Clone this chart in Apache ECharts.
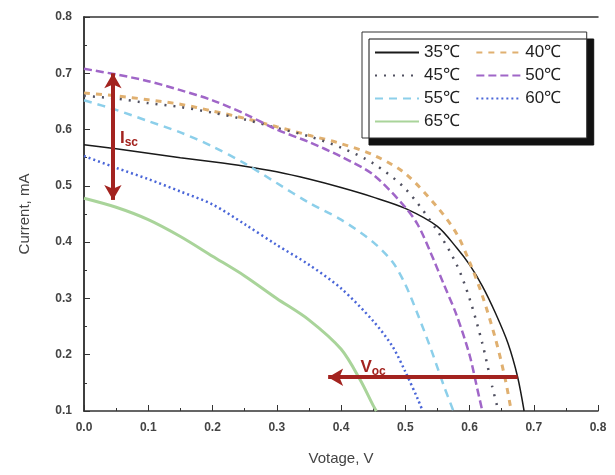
<!DOCTYPE html>
<html>
<head>
<meta charset="utf-8">
<script src="https://cdn.jsdelivr.net/npm/echarts@6/dist/echarts.min.js"></script>
<style>
  html, body { margin: 0; padding: 0; background: #fff; }
  #chart { width: 615px; height: 475px; }
</style>
</head>
<body>
<div id="chart"></div>
<script>
// I-V curves: [voltage V, current mA]
const names = ['35℃', '40℃', '45℃', '50℃', '55℃', '60℃', '65℃']
const t35 = [[0, 0.573], [0.05, 0.566], [0.1, 0.558], [0.15, 0.55], [0.2, 0.543], [0.25, 0.535], [0.3, 0.525], [0.35, 0.512], [0.4, 0.497], [0.45, 0.48], [0.5, 0.46], [0.55, 0.428], [0.58, 0.39], [0.6, 0.36], [0.62, 0.322], [0.64, 0.275], [0.66, 0.22], [0.675, 0.16], [0.685, 0.1]]
const t40 = [[0, 0.665], [0.05, 0.66], [0.1, 0.653], [0.15, 0.645], [0.2, 0.633], [0.25, 0.62], [0.3, 0.605], [0.35, 0.59], [0.4, 0.575], [0.45, 0.555], [0.5, 0.522], [0.55, 0.462], [0.58, 0.415], [0.6, 0.365], [0.62, 0.305], [0.64, 0.23], [0.655, 0.16], [0.665, 0.1]]
const t45 = [[0, 0.66], [0.05, 0.655], [0.1, 0.647], [0.15, 0.64], [0.2, 0.63], [0.25, 0.618], [0.3, 0.603], [0.35, 0.588], [0.4, 0.568], [0.45, 0.54], [0.5, 0.495], [0.55, 0.42], [0.58, 0.36], [0.6, 0.3], [0.62, 0.22], [0.635, 0.145], [0.645, 0.1]]
const t50 = [[0, 0.708], [0.05, 0.698], [0.1, 0.686], [0.15, 0.67], [0.2, 0.652], [0.25, 0.628], [0.3, 0.6], [0.35, 0.578], [0.4, 0.552], [0.45, 0.52], [0.5, 0.462], [0.52, 0.43], [0.54, 0.38], [0.56, 0.325], [0.58, 0.27], [0.6, 0.2], [0.612, 0.14], [0.62, 0.1]]
const t55 = [[0, 0.652], [0.05, 0.635], [0.1, 0.615], [0.15, 0.595], [0.2, 0.57], [0.25, 0.54], [0.3, 0.505], [0.35, 0.47], [0.4, 0.44], [0.45, 0.4], [0.48, 0.365], [0.5, 0.325], [0.52, 0.27], [0.54, 0.21], [0.56, 0.145], [0.575, 0.1]]
const t60 = [[0, 0.553], [0.05, 0.532], [0.1, 0.512], [0.15, 0.49], [0.2, 0.467], [0.25, 0.432], [0.3, 0.395], [0.35, 0.36], [0.4, 0.318], [0.45, 0.26], [0.48, 0.215], [0.5, 0.17], [0.52, 0.12], [0.527, 0.1]]
const t65 = [[0, 0.478], [0.05, 0.462], [0.1, 0.44], [0.15, 0.41], [0.2, 0.375], [0.25, 0.34], [0.3, 0.3], [0.35, 0.262], [0.4, 0.21], [0.43, 0.155], [0.45, 0.11], [0.455, 0.1]]
// annotation arrows
const iscArrow = [[0.045, 0.7], [0.045, 0.475]]
const vocArrow = [[0.675, 0.16], [0.38, 0.16]]

const chart = echarts.init(document.getElementById('chart'))
const arrowRed = '#a3231f'

function curve (name, data, color, type, width) {
  return {
    name: name,
    type: 'line',
    data: data,
    smooth: 0.3,
    showSymbol: false,
    symbol: 'none',
    lineStyle: { color: color, type: type, width: width },
    itemStyle: { color: color },
    z: 3
  }
}

chart.setOption({
  animation: false,
  backgroundColor: '#fff',
  grid: { left: 84, right: 17, top: 17, bottom: 64 },
  legend: {
    data: names,
    left: 362,
    top: 32,
    width: 222,
    itemWidth: 44,
    itemHeight: 14,
    itemGap: 6,
    padding: [12, 16, 8, 12],
    backgroundColor: '#fff',
    borderColor: '#333',
    borderWidth: 1,
    shadowColor: '#111',
    shadowBlur: 0,
    shadowOffsetX: 7,
    shadowOffsetY: 7,
    itemStyle: { opacity: 0 },
    formatter: name => name + '  ',
    textStyle: { fontFamily: 'Liberation Sans', fontSize: 17, color: '#222' }
  },
  xAxis: [{
    type: 'value',
    min: 0,
    max: 0.8,
    interval: 0.1,
    name: 'Votage, V',
    nameLocation: 'middle',
    nameGap: 40,
    nameTextStyle: { fontFamily: 'Liberation Sans', fontSize: 15, color: '#444' },
    axisLine: { show: true, onZero: false, lineStyle: { color: '#333', width: 1.5 } },
    axisTick: { show: true, inside: true, length: 6, lineStyle: { color: '#333' } },
    minorTick: { show: true, splitNumber: 2, length: 3, lineStyle: { color: '#333' } },
    splitLine: { show: false },
    axisLabel: {
      fontFamily: 'Liberation Sans', fontSize: 12, fontWeight: 'bold', color: '#444', margin: 11,
      formatter: v => v.toFixed(1)
    }
  }, {
    type: 'value', position: 'top', min: 0, max: 0.8,
    axisLine: { show: true, lineStyle: { color: '#333', width: 1.5 } },
    axisTick: { show: false }, axisLabel: { show: false }, splitLine: { show: false }
  }],
  yAxis: [{
    type: 'value',
    min: 0.1,
    max: 0.8,
    interval: 0.1,
    name: 'Current, mA',
    nameLocation: 'middle',
    nameGap: 52,
    nameTextStyle: { fontFamily: 'Liberation Sans', fontSize: 15, color: '#444' },
    axisLine: { show: true, onZero: false, lineStyle: { color: '#333', width: 1.5 } },
    axisTick: { show: true, inside: true, length: 6, lineStyle: { color: '#333' } },
    minorTick: { show: true, splitNumber: 2, length: 3, lineStyle: { color: '#333' } },
    splitLine: { show: false },
    axisLabel: {
      fontFamily: 'Liberation Sans', fontSize: 12, fontWeight: 'bold', color: '#444', margin: 12,
      formatter: v => v.toFixed(1)
    }
  }, {
    type: 'value', position: 'right', min: 0.1, max: 0.8,
    axisLine: { show: true, lineStyle: { color: '#333', width: 1.5 } },
    axisTick: { show: false }, axisLabel: { show: false }, splitLine: { show: false }
  }],
  series: [
    curve(names[0], t35, '#1a1a1a', 'solid', 1.5),
    curve(names[1], t40, '#e0b070', [6, 6], 3),
    curve(names[2], t45, '#505060', [2, 7], 2.5),
    curve(names[3], t50, '#a066c8', [8, 4], 2.5),
    curve(names[4], t55, '#8ccfea', [8, 6], 2.5),
    curve(names[5], t60, '#4a66d8', [2, 3], 2.5),
    curve(names[6], t65, '#a9d49a', 'solid', 3),
    {
      name: 'arrows',
      type: 'line',
      data: [],
      z: 5,
      markLine: {
        silent: true,
        symbolSize: [13, 15],
        lineStyle: { color: arrowRed, width: 4, type: 'solid' },
        label: { show: false },
        data: [
          [{ coord: iscArrow[0], symbol: 'arrow' }, { coord: iscArrow[1], symbol: 'arrow' }],
          [{ coord: vocArrow[0], symbol: 'none' }, { coord: vocArrow[1], symbol: 'arrow' }]
        ]
      },
      markPoint: {
        silent: true,
        symbol: 'circle',
        symbolSize: 0,
        label: {
          show: true,
          color: arrowRed,
          rich: {
            b: { fontFamily: 'Liberation Sans', fontSize: 17, fontWeight: 'bold', color: arrowRed },
            s: { fontFamily: 'Liberation Sans', fontSize: 12, fontWeight: 'bold', color: arrowRed, padding: [10, 0, 0, 0] }
          }
        },
        data: [
          { coord: [0.07, 0.585], label: { formatter: '{b|I}{s|sc}' } },
          { coord: [0.45, 0.178], label: { formatter: '{b|V}{s|oc}' } }
        ]
      }
    }
  ]
})
</script>
</body>
</html>
